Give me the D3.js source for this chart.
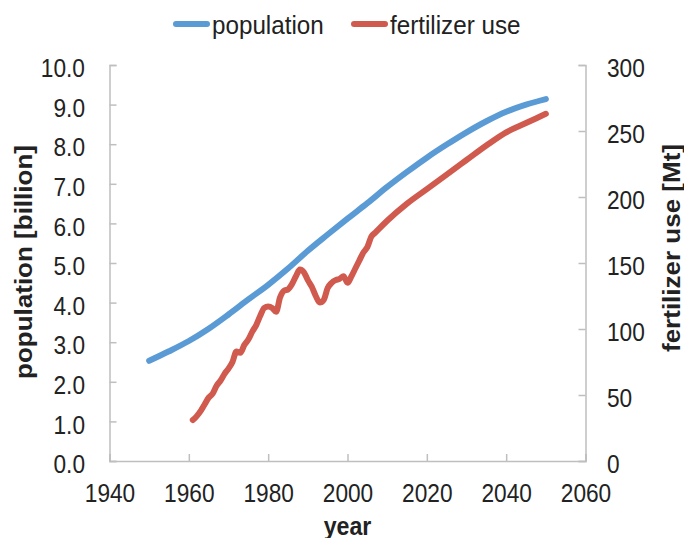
<!DOCTYPE html>
<html>
<head>
<meta charset="utf-8">
<script src="https://cdn.jsdelivr.net/npm/d3@7"></script>
<style>
body{margin:0;background:#fff}
</style>
</head>
<body>
<div id="vis"></div>
<script>
// data
var popYears = [1950,1955,1960,1965,1970,1975,1980,1985,1990,1995,2000,2005,2010,2015,2020,2025,2030,2035,2040,2045,2050];
var popValues = [2.53,2.77,3.03,3.34,3.70,4.08,4.45,4.86,5.31,5.72,6.12,6.51,6.92,7.30,7.66,7.99,8.30,8.58,8.82,9.00,9.14];

var fertYears = [1961,1962,1963,1964,1965,1966,1967,1968,1969,1970,1971,1972,1973,1974,1975,1976,1977,1978,1979,1980,
                 1981,1982,1983,1984,1985,1986,1987,1988,1989,1990,1991,1992,1993,1994,1995,1996,1997,1998,1999,2000,
                 2001,2002,2003,2004,2005,2006,2007,2010,2015,2020,2025,2030,2035,2040,2045,2050];
var fertValues = [31,34,38,43,48,51,57,61,66,70,75,83,82,88,92,98,103,110,116,117,
                  116,113,124,129,130,134,140,145,143,137,132,125,120,122,131,135,137,138,140,135,
                  140,146,152,158,162,170,173,182,195,206,217,228,239,249,256,263];

var xTicks = [1940,1960,1980,2000,2020,2040,2060];
var leftTicks = [0,1,2,3,4,5,6,7,8,9,10];
var rightTicks = [0,50,100,150,200,250,300];

var seriesNames = ["population","fertilizer use"];
var seriesColors = ["#5B9BD5","#D05A4E"];

var width = 684, height = 538,
    plotLeft = 109.5, plotRight = 585.5, plotTop = 65, plotBottom = 461,
    sx = 0.89, fs = 25.5, axisColor = "#BFBFBF", textColor = "#222";

var svg = d3.select("#vis").append("svg")
    .attr("width", width).attr("height", height)
    .style("font-family", "'Liberation Sans', Arial, sans-serif");

var x = d3.scaleLinear().domain([1940,2060]).range([plotLeft,plotRight]),
    yL = d3.scaleLinear().domain([0,10]).range([plotBottom,plotTop]),
    yR = d3.scaleLinear().domain([0,300]).range([plotBottom,plotTop]);

function styleAxis(g){
    g.attr("font-size", null).attr("font-family", null);
    g.selectAll("path, line").attr("stroke", axisColor).attr("stroke-width", 1.5);
    g.selectAll("text").attr("fill", textColor).style("font-size", fs + "px")
        .attr("x", null).attr("y", null).attr("dy", null);
}

// x axis
var gx = svg.append("g").attr("transform", "translate(0," + plotBottom + ")")
    .call(d3.axisBottom(x).tickValues(xTicks).tickSize(-7).tickFormat(d3.format("d")));
styleAxis(gx);
gx.selectAll("text").attr("text-anchor", "middle").attr("transform", "translate(0,40.7) scale(" + sx + ",1)");

// left axis
var gl = svg.append("g").attr("transform", "translate(" + plotLeft + ",0)")
    .call(d3.axisLeft(yL).tickValues(leftTicks).tickSize(-7).tickFormat(d3.format(".1f")));
styleAxis(gl);
gl.selectAll("text").attr("text-anchor", "end").attr("transform", "translate(-24.5,11.7) scale(" + sx + ",1)");

// right axis
var gr = svg.append("g").attr("transform", "translate(" + plotRight + ",0)")
    .call(d3.axisRight(yR).tickValues(rightTicks).tickSize(-7).tickFormat(d3.format("d")));
styleAxis(gr);
gr.selectAll("text").attr("text-anchor", "start").attr("transform", "translate(21.5,11.7) scale(" + sx + ",1)");

// lines
var popLine = d3.line().x(function(d){ return x(d[0]); }).y(function(d){ return yL(d[1]); }).curve(d3.curveMonotoneX);
var fertLine = d3.line().x(function(d){ return x(d[0]); }).y(function(d){ return yR(d[1]); }).curve(d3.curveMonotoneX);

svg.append("path").datum(d3.zip(popYears, popValues))
    .attr("d", popLine).attr("fill", "none").attr("stroke", seriesColors[0])
    .attr("stroke-width", 6).attr("stroke-linecap", "round").attr("stroke-linejoin", "round");
svg.append("path").datum(d3.zip(fertYears, fertValues))
    .attr("d", fertLine).attr("fill", "none").attr("stroke", seriesColors[1])
    .attr("stroke-width", 6).attr("stroke-linecap", "round").attr("stroke-linejoin", "round");

// axis titles
svg.append("text").text("population [billion]")
    .attr("transform", "translate(24,262) scale(" + sx + ",1) rotate(-90)")
    .attr("text-anchor", "middle").attr("dy", "0.35em")
    .style("font-size", "26px").style("font-weight", "bold").attr("fill", textColor);
svg.append("text").text("fertilizer use [Mt]")
    .attr("transform", "translate(672,248) scale(" + sx + ",1) rotate(-90)")
    .attr("text-anchor", "middle").attr("dy", "0.35em")
    .style("font-size", "26px").style("font-weight", "bold").attr("fill", textColor);
svg.append("text").text("year")
    .attr("transform", "translate(" + ((plotLeft + plotRight) / 2) + ",535) scale(" + sx + ",1)")
    .attr("text-anchor", "middle")
    .style("font-size", "26px").style("font-weight", "bold").attr("fill", textColor);

// legend
var legendX = [176, 354];
var legend = svg.append("g").selectAll("g").data(seriesNames).enter().append("g")
    .attr("transform", function(d, i){ return "translate(" + legendX[i] + ",24)"; });
legend.append("line").attr("x1", 0).attr("x2", 31).attr("y1", 0).attr("y2", 0)
    .attr("stroke", function(d, i){ return seriesColors[i]; })
    .attr("stroke-width", 6).attr("stroke-linecap", "round");
legend.append("text").text(function(d){ return d; })
    .attr("transform", "translate(36,10) scale(0.95,1)")
    .style("font-size", fs + "px").attr("fill", textColor);
</script>
</body>
</html>
